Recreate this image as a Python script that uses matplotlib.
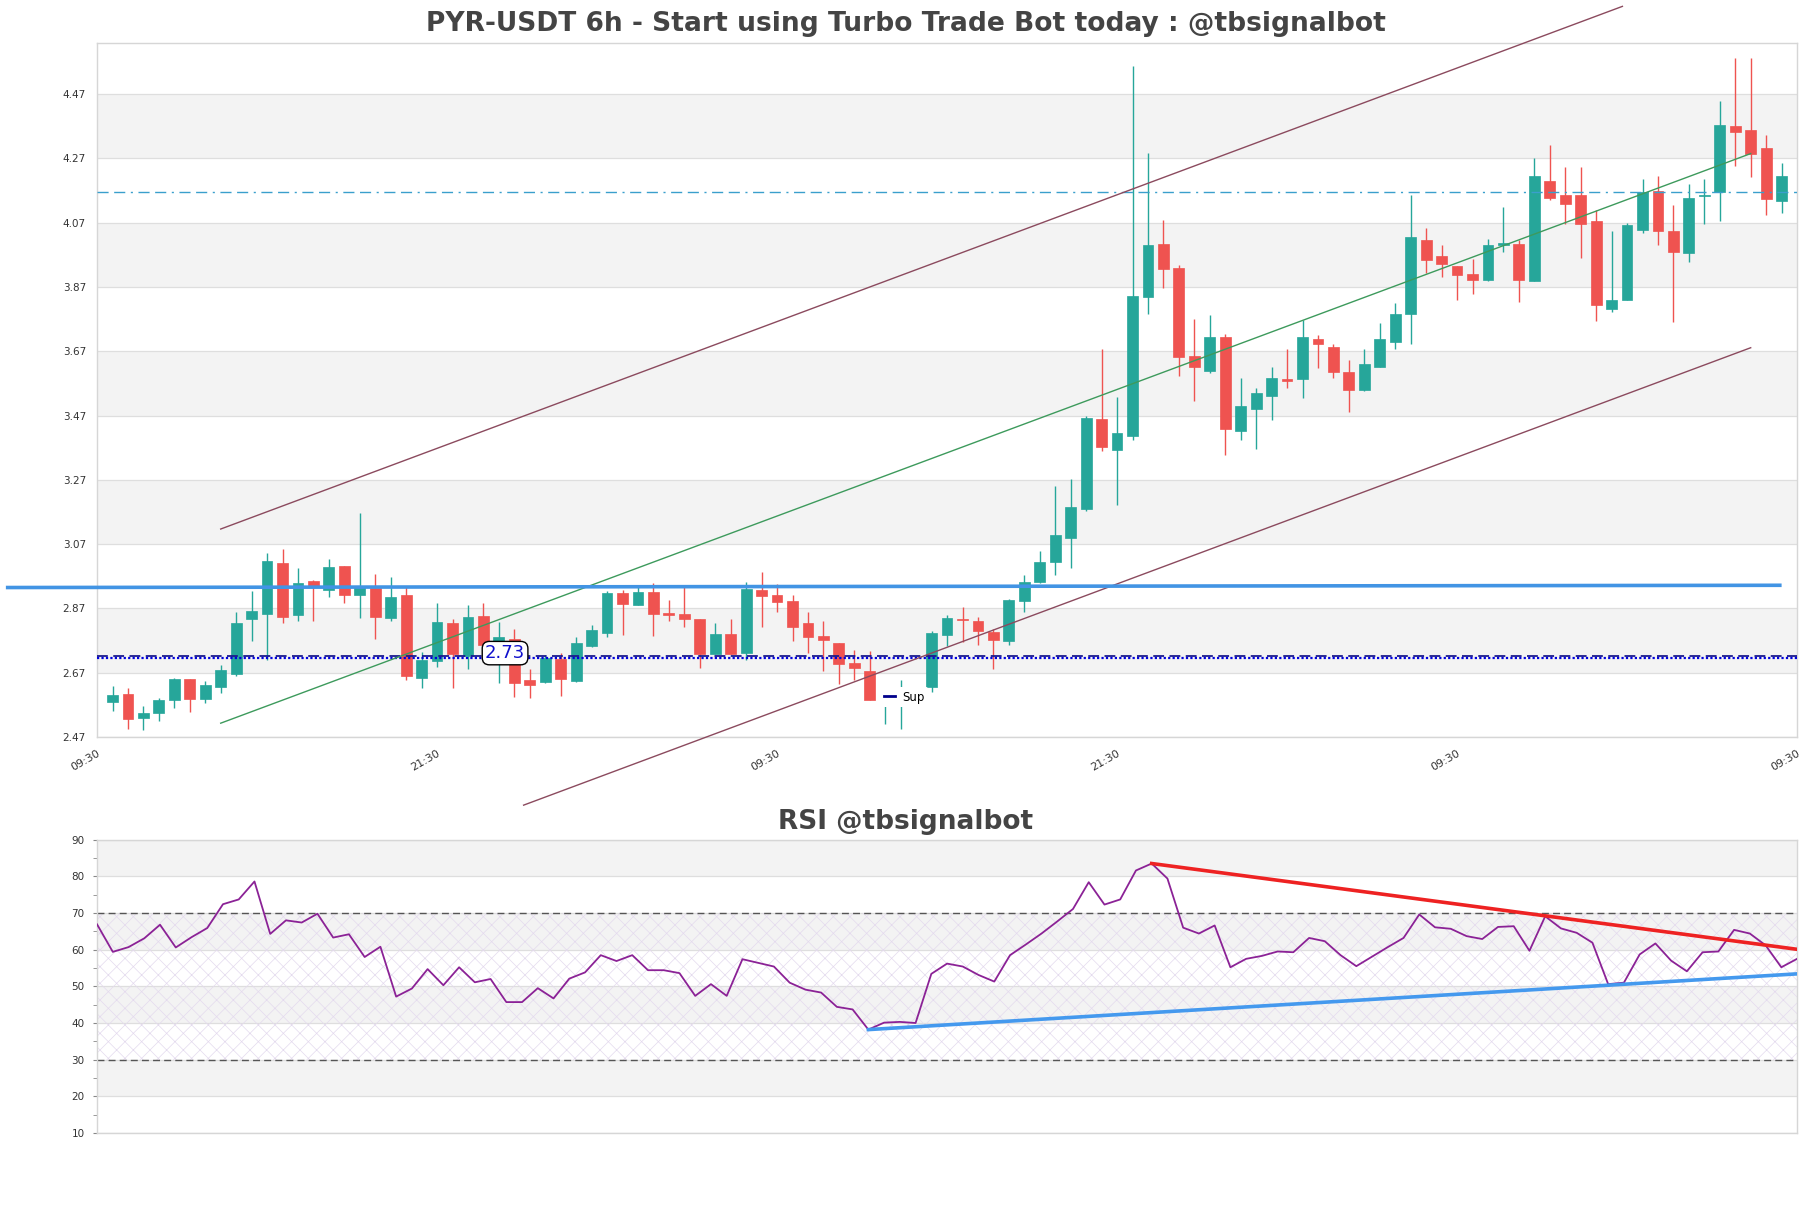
import numpy as np
import matplotlib
matplotlib.use('Agg')
import matplotlib.pyplot as plt
from matplotlib.lines import Line2D

# ---------------- data ----------------
opens = [2.579, 2.605, 2.530, 2.545, 2.586, 2.650, 2.589, 2.626, 2.665, 2.836,
         2.854, 3.011, 2.850, 2.955, 2.928, 3.002, 2.913, 2.935, 2.841, 2.912,
         2.654, 2.707, 2.825, 2.722, 2.846, 2.710, 2.776, 2.647, 2.642, 2.712,
         2.645, 2.754, 2.794, 2.918, 2.882, 2.921, 2.857, 2.853, 2.837, 2.729,
         2.790, 2.732, 2.927, 2.913, 2.893, 2.826, 2.784, 2.763, 2.700, 2.676,
         2.585, 2.590, 2.600, 2.626, 2.786, 2.837, 2.831, 2.796, 2.770, 2.893,
         2.953, 3.013, 3.090, 3.179, 3.459, 3.364, 3.407, 3.839, 4.004, 3.929,
         3.656, 3.610, 3.713, 3.421, 3.489, 3.531, 3.583, 3.583, 3.709, 3.682,
         3.607, 3.548, 3.621, 3.698, 3.786, 4.015, 3.965, 3.934, 3.909, 3.891,
         4.002, 4.003, 3.889, 4.199, 4.155, 4.155, 4.074, 3.801, 3.829, 4.046,
         4.169, 4.043, 3.976, 4.153, 4.164, 4.370, 4.358, 4.302, 4.138]
highs = [2.628, 2.621, 2.566, 2.590, 2.654, 2.650, 2.644, 2.694, 2.858, 2.924,
         3.042, 3.054, 2.996, 2.958, 3.024, 3.002, 3.167, 2.976, 2.969, 2.938,
         2.733, 2.886, 2.836, 2.881, 2.886, 2.827, 2.806, 2.683, 2.725, 2.730,
         2.780, 2.818, 2.925, 2.927, 2.943, 2.948, 2.896, 2.936, 2.837, 2.825,
         2.837, 2.952, 2.983, 2.946, 2.911, 2.859, 2.831, 2.763, 2.740, 2.737,
         2.620, 2.647, 2.620, 2.800, 2.849, 2.874, 2.843, 2.807, 2.899, 2.973,
         3.049, 3.250, 3.273, 3.470, 3.677, 3.529, 4.557, 4.287, 4.079, 3.939,
         3.769, 3.784, 3.724, 3.586, 3.557, 3.621, 3.676, 3.768, 3.722, 3.693,
         3.644, 3.676, 3.757, 3.819, 4.155, 4.055, 4.000, 3.934, 3.958, 4.018,
         4.118, 4.015, 4.271, 4.311, 4.243, 4.243, 4.110, 4.045, 4.069, 4.205,
         4.215, 4.125, 4.190, 4.206, 4.448, 4.581, 4.581, 4.344, 4.255]
lows = [2.551, 2.495, 2.491, 2.520, 2.561, 2.548, 2.576, 2.607, 2.659, 2.769,
        2.709, 2.826, 2.832, 2.832, 2.907, 2.888, 2.839, 2.776, 2.832, 2.647,
        2.621, 2.688, 2.621, 2.682, 2.720, 2.639, 2.595, 2.592, 2.639, 2.598,
        2.640, 2.749, 2.780, 2.787, 2.880, 2.785, 2.831, 2.813, 2.685, 2.729,
        2.729, 2.709, 2.813, 2.860, 2.769, 2.730, 2.676, 2.636, 2.647, 2.584,
        2.510, 2.496, 2.575, 2.610, 2.753, 2.767, 2.756, 2.681, 2.756, 2.859,
        2.949, 2.974, 2.996, 3.174, 3.360, 3.191, 3.393, 3.786, 3.867, 3.593,
        3.514, 3.603, 3.346, 3.393, 3.367, 3.456, 3.557, 3.524, 3.617, 3.586,
        3.480, 3.546, 3.621, 3.676, 3.692, 3.913, 3.901, 3.829, 3.849, 3.889,
        3.979, 3.823, 3.889, 4.142, 4.066, 3.961, 3.764, 3.792, 3.829, 4.038,
        4.001, 3.761, 3.948, 4.066, 4.075, 4.247, 4.212, 4.095, 4.100]
closes = [2.602, 2.526, 2.546, 2.585, 2.650, 2.589, 2.633, 2.678, 2.825, 2.862,
          3.018, 2.844, 2.948, 2.936, 2.999, 2.913, 2.941, 2.844, 2.906, 2.660,
          2.709, 2.828, 2.729, 2.843, 2.757, 2.781, 2.639, 2.633, 2.715, 2.651,
          2.762, 2.803, 2.918, 2.885, 2.921, 2.852, 2.850, 2.836, 2.729, 2.790,
          2.729, 2.931, 2.910, 2.891, 2.813, 2.782, 2.771, 2.698, 2.685, 2.584,
          2.600, 2.605, 2.610, 2.795, 2.841, 2.834, 2.799, 2.773, 2.896, 2.953,
          3.014, 3.099, 3.186, 3.461, 3.373, 3.417, 3.841, 4.001, 3.927, 3.653,
          3.620, 3.713, 3.429, 3.501, 3.539, 3.586, 3.576, 3.714, 3.693, 3.605,
          3.549, 3.629, 3.707, 3.785, 4.025, 3.954, 3.941, 3.907, 3.892, 4.000,
          4.006, 3.892, 4.215, 4.147, 4.128, 4.066, 3.813, 3.831, 4.064, 4.164,
          4.044, 3.979, 4.146, 4.157, 4.373, 4.353, 4.284, 4.143, 4.215]
rsi = [66.9, 59.4, 60.7, 63.1, 66.8, 60.6, 63.4, 65.9, 72.4, 73.7,
       78.6, 64.3, 68.0, 67.4, 69.8, 63.3, 64.2, 58.0, 60.8, 47.2,
       49.4, 54.7, 50.3, 55.2, 51.1, 52.0, 45.7, 45.7, 49.5, 46.7,
       52.1, 53.8, 58.5, 56.9, 58.5, 54.4, 54.4, 53.6, 47.4, 50.6,
       47.4, 57.4, 56.4, 55.4, 51.0, 49.1, 48.3, 44.4, 43.7, 38.2,
       40.1, 40.3, 40.0, 53.4, 56.2, 55.4, 53.1, 51.3, 58.5, 61.4,
       64.4, 67.7, 71.1, 78.4, 72.3, 73.7, 81.6, 83.5, 79.4, 66.0,
       64.4, 66.6, 55.2, 57.5, 58.3, 59.5, 59.3, 63.2, 62.3, 58.5,
       55.5, 58.1, 60.7, 63.2, 69.6, 66.1, 65.7, 63.7, 62.9, 66.2,
       66.4, 59.7, 69.1, 65.8, 64.6, 61.9, 50.6, 51.0, 58.7, 61.7,
       57.0, 54.1, 59.3, 59.5, 65.4, 64.4, 61.2, 55.2, 57.5]

price_ticks = [2.47, 2.67, 2.87, 3.07, 3.27, 3.47, 3.67, 3.87, 4.07, 4.27, 4.47]
x_tick_labels = ['09:30', '21:30', '09:30', '21:30', '09:30', '09:30']
rsi_ticks = [10, 20, 30, 40, 50, 60, 70, 80, 90]

resistance_level = [2.935, 2.942]          # thick blue line (start, end)
resistance_x = [-6.9, 108]
support_dashed = 2.723
support_dotted = 2.715
support_label = '2.73'
upper_level = 4.164
mid_channel_x = [7, 106]
mid_channel_y = [2.513, 4.285]
up_channel_x = [7, 97.7]
up_channel_y = [3.117, 4.743]
low_channel_x = [26.6, 106]
low_channel_y = [2.258, 3.681]
rsi_red_x = [67, 108]
rsi_red_y = [83.5, 60.1]
rsi_blue_x = [49, 108]
rsi_blue_y = [38.2, 53.4]

# ---------------- style ----------------
UP = '#26a69a'
DOWN = '#ef5350'
GRID = '#dedede'
BAND = '#f3f3f3'
SPINE = '#d6d6d6'
TXT = '#333333'

plt.rcParams['font.family'] = ['DejaVu Sans']
plt.rcParams['hatch.color'] = '#e4daee'
plt.rcParams['hatch.linewidth'] = 0.5

fig = plt.figure(figsize=(18.11, 12.08), dpi=100)
ax = fig.add_axes([0.0536, 0.3899, 0.9387, 0.5745])
ax2 = fig.add_axes([0.0536, 0.0621, 0.9387, 0.2428])

n = len(opens)
x = np.arange(n)
o = np.array(opens); c = np.array(closes); h = np.array(highs); l = np.array(lows)
up = c >= o
colors = np.where(up, UP, DOWN)

# background bands
for k in range(len(price_ticks) - 1):
    if k % 2 == 1:
        ax.axhspan(price_ticks[k], price_ticks[k + 1], color=BAND, zorder=0, lw=0)
for t in price_ticks:
    ax.axhline(t, color=GRID, lw=0.9, zorder=0.5)

# candles
ax.vlines(x, l, h, colors=colors, lw=1.0, zorder=2)
body_bottom = np.minimum(o, c)
body_h = np.maximum(np.abs(c - o), 0.004)
ax.bar(x, body_h, bottom=body_bottom, width=0.7, color=colors, edgecolor=colors,
       lw=0.5, zorder=2.5)

# horizontal levels
ax.plot(resistance_x, resistance_level, color='#4294e4', lw=2.6, zorder=4,
        clip_on=False, solid_capstyle='butt')
ax.axhline(support_dashed, color='#1a1a8c', lw=1.3, ls=(0, (6, 3)), zorder=3)
ax.axhline(support_dotted, color='#0000dd', lw=1.6, ls=(0, (1, 1)), zorder=3)
ax.axhline(upper_level, color='#3a9fcc', lw=1.0, ls=(0, (8, 4, 8, 4, 1.5, 4)), zorder=3)

# channel
ax.plot(mid_channel_x, mid_channel_y, color='#3d9a5c', lw=1.0, zorder=3)
ax.plot(up_channel_x, up_channel_y, color='#8b4a5e', lw=1.0, zorder=3, clip_on=False)
ax.plot(low_channel_x, low_channel_y, color='#8b4a5e', lw=1.0, zorder=3, clip_on=False)

# support label
ax.text(25.4, 2.731, support_label, color='#1010cc', fontsize=13, ha='center', va='center',
        zorder=6, bbox=dict(boxstyle='round,pad=0.15,rounding_size=0.4', fc='white',
                            ec='black', lw=1.0))

leg = ax.legend(handles=[Line2D([], [], color='#00008b', lw=2)], labels=['Sup'],
                loc='center left', bbox_to_anchor=(0.4606, 0.0576), fontsize=8.5,
                frameon=True, facecolor='white', edgecolor='none', framealpha=1,
                handlelength=1.0, handletextpad=0.6, borderpad=0.3, borderaxespad=0)
leg.set_zorder(5)

ax.set_xlim(-1, n)
ax.set_ylim(2.47, 4.629)
ax.set_yticks(price_ticks)
ax.set_yticklabels([f'{t:.2f}' for t in price_ticks], fontsize=7.5, color=TXT)
ax.set_xticks(np.linspace(-1, n, 6))
ax.set_xticklabels(x_tick_labels, rotation=30, ha='right', rotation_mode='anchor',
                   fontsize=8, color=TXT)
ax.tick_params(axis='both', length=0, pad=8)
for s in ax.spines.values():
    s.set_color(SPINE)
    s.set_linewidth(1.0)

fig.text(0.5, 0.980, 'PYR-USDT 6h - Start using Turbo Trade Bot today : @tbsignalbot',
         ha='center', va='center', fontsize=19.1, fontweight='bold', color='#444444')

# ---------------- RSI ----------------
xr = np.arange(len(rsi))
for k, (a, b) in enumerate(zip(rsi_ticks[:-1], rsi_ticks[1:])):
    if k % 2 == 1:
        ax2.axhspan(a, b, color=BAND, zorder=0, lw=0)
for t in rsi_ticks:
    ax2.axhline(t, color=GRID, lw=0.9, zorder=0.5)
ax2.fill_between([0, len(rsi) - 1], 30, 70, facecolor='none', hatch='xx',
                 edgecolor='#e4daee', lw=0, zorder=0.6)
ax2.axhline(70, color='#555555', lw=1.0, ls=(0, (5, 3)), zorder=1)
ax2.axhline(30, color='#555555', lw=1.0, ls=(0, (5, 3)), zorder=1)
ax2.plot(xr, rsi, color='#8b2296', lw=1.3, zorder=3)
ax2.plot(rsi_red_x, rsi_red_y, color='#ee2222', lw=2.6, zorder=4)
ax2.plot(rsi_blue_x, rsi_blue_y, color='#4499ee', lw=2.6, zorder=4)

ax2.set_xlim(0, len(rsi) - 1)
ax2.set_ylim(10, 90)
ax2.set_yticks(rsi_ticks)
ax2.set_yticks(np.arange(15, 90, 10), minor=True)
ax2.set_yticklabels([str(t) for t in rsi_ticks], fontsize=7.5, color=TXT)
ax2.set_xticks([])
ax2.tick_params(axis='y', which='both', length=3, color='#888888', pad=6)
for s in ax2.spines.values():
    s.set_color(SPINE)
    s.set_linewidth(1.0)

fig.text(0.5, 0.3195, 'RSI @tbsignalbot', ha='center', va='center', fontsize=19,
         fontweight='bold', color='#444444')

fig.savefig('out.png', dpi=100)
